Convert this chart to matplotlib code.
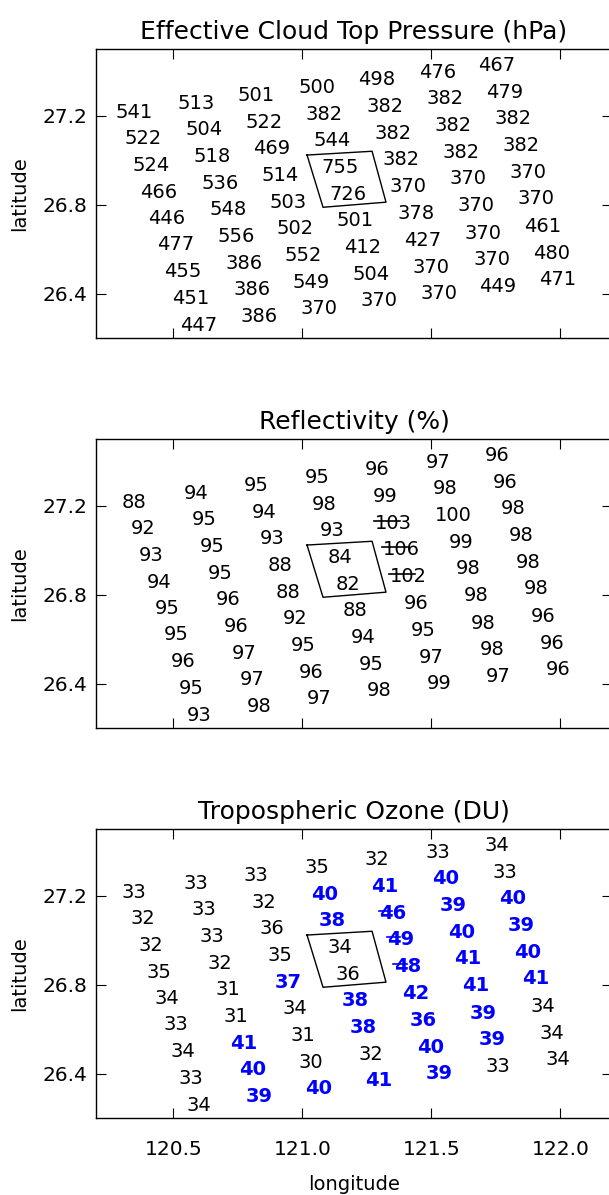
import matplotlib
matplotlib.use('Agg')
import matplotlib.pyplot as plt

plt.rcParams['font.family'] = 'DejaVu Sans'
plt.rcParams['font.size'] = 14

# pixel centres, one list per scan line (north -> south)
lon = [
    [120.347, 120.382, 120.413, 120.444, 120.475, 120.510, 120.537, 120.568, 120.599],
    [120.588, 120.619, 120.650, 120.681, 120.712, 120.743, 120.774, 120.805, 120.832],
    [120.820, 120.851, 120.882, 120.913, 120.944, 120.971, 121.002, 121.033, 121.064],
    [121.057, 121.084, 121.115, 121.146, 121.177, 121.204, 121.235, 121.266, 121.297],
    [121.289, 121.320, 121.351, 121.382, 121.409, 121.440, 121.467, 121.498, 121.529],
    [121.526, 121.553, 121.584, 121.615, 121.642, 121.673, 121.700, 121.735, 121.758],
    [121.754, 121.785, 121.816, 121.847, 121.874, 121.905, 121.933, 121.967, 121.991]]
lat = [
    [27.216, 27.099, 26.977, 26.856, 26.739, 26.622, 26.500, 26.378, 26.257],
    [27.257, 27.140, 27.018, 26.896, 26.779, 26.658, 26.536, 26.419, 26.297],
    [27.293, 27.171, 27.054, 26.932, 26.811, 26.694, 26.572, 26.450, 26.333],
    [27.329, 27.207, 27.090, 26.968, 26.847, 26.730, 26.608, 26.486, 26.369],
    [27.365, 27.243, 27.122, 27.005, 26.883, 26.761, 26.640, 26.518, 26.401],
    [27.396, 27.279, 27.158, 27.036, 26.919, 26.797, 26.671, 26.554, 26.432],
    [27.428, 27.306, 27.189, 27.068, 26.946, 26.829, 26.703, 26.581, 26.464]]

ctp = [
    [541, 522, 524, 466, 446, 477, 455, 451, 447],
    [513, 504, 518, 536, 548, 556, 386, 386, 386],
    [501, 522, 469, 514, 503, 502, 552, 549, 370],
    [500, 382, 544, 755, 726, 501, 412, 504, 370],
    [498, 382, 382, 382, 370, 378, 427, 370, 370],
    [476, 382, 382, 382, 370, 370, 370, 370, 449],
    [467, 479, 382, 382, 370, 370, 461, 480, 471]]

refl = [
    [88, 92, 93, 94, 95, 95, 96, 95, 93],
    [94, 95, 95, 95, 96, 96, 97, 97, 98],
    [95, 94, 93, 88, 88, 92, 95, 96, 97],
    [95, 98, 93, 84, 82, 88, 94, 95, 98],
    [96, 99, 103, 106, 102, 96, 95, 97, 99],
    [97, 98, 100, 99, 98, 98, 98, 98, 97],
    [96, 96, 98, 98, 98, 98, 96, 96, 96]]

ozone = [
    [33, 32, 32, 35, 34, 33, 34, 33, 34],
    [33, 33, 33, 32, 31, 31, 41, 40, 39],
    [33, 32, 36, 35, 37, 34, 31, 30, 40],
    [35, 40, 38, 34, 36, 38, 38, 32, 41],
    [32, 41, 46, 49, 48, 42, 36, 40, 39],
    [33, 40, 39, 40, 41, 41, 39, 39, 33],
    [34, 33, 40, 39, 40, 41, 34, 34, 34]]

# 1 = good retrieval, drawn in bold blue
ozone_good = [
    [0, 0, 0, 0, 0, 0, 0, 0, 0],
    [0, 0, 0, 0, 0, 0, 1, 1, 1],
    [0, 0, 0, 0, 1, 0, 0, 0, 1],
    [0, 1, 1, 0, 0, 1, 1, 0, 1],
    [0, 1, 1, 1, 1, 1, 1, 1, 1],
    [0, 1, 1, 1, 1, 1, 1, 1, 0],
    [0, 0, 1, 1, 1, 1, 0, 0, 0]]

# pixels struck through (row-anomaly flag)
struck = [(4, 2), (4, 3), (4, 4)]

# ground pixel footprint
box_lon = [121.018, 121.270, 121.324, 121.080, 121.018]
box_lat = [27.023, 27.040, 26.811, 26.788, 27.023]

panels = [
    ('Effective Cloud Top Pressure (hPa)', ctp, None, False),
    ('Reflectivity (%)', refl, None, True),
    ('Tropospheric Ozone (DU)', ozone, ozone_good, True),
]

fig = plt.figure(figsize=(6.09, 11.95), dpi=100)
W, H = 609.0, 1195.0
tops = [49, 439, 829]

for k, (title, vals, good, strike) in enumerate(panels):
    top = tops[k]
    ax = fig.add_axes([96 / W, 1 - (top + 289) / H, 516 / W, 289 / H])
    ax.set_xlim(120.2, 122.2)
    ax.set_ylim(26.2, 27.5)
    ax.set_xticks([120.5, 121.0, 121.5, 122.0])
    ax.set_yticks([26.4, 26.8, 27.2])
    ax.tick_params(direction='in', length=7, width=0.8, top=True, right=True,
                   labelsize=14.5, pad=6)
    ax.tick_params(axis='x', pad=16)
    for s in ax.spines.values():
        s.set_linewidth(1.0)
    ax.set_ylabel('latitude', fontsize=14, labelpad=10)
    if k == 2:
        ax.set_xlabel('longitude', fontsize=14, labelpad=11)
    else:
        ax.set_xticklabels([])
    ax.set_title(title, fontsize=18, pad=7)

    for i in range(7):
        for j in range(9):
            v = vals[i][j]
            blue = good is not None and good[i][j] == 1
            ax.text(lon[i][j], lat[i][j], str(v), ha='center', va='center',
                    fontsize=14, color='#0000ff' if blue else 'black',
                    fontweight='bold' if blue else 'normal')
            if strike and (i, j) in struck:
                w = 0.072 if v >= 100 else 0.056
                ax.plot([lon[i][j] - w, lon[i][j] + (0.027 if v >= 100 else -0.004)],
                        [lat[i][j] + 0.01] * 2,
                        color='#0000ff' if blue else 'black', lw=1.2)

    ax.plot(box_lon, box_lat, color='black', lw=1.0)

fig.savefig('out.png', dpi=100)
